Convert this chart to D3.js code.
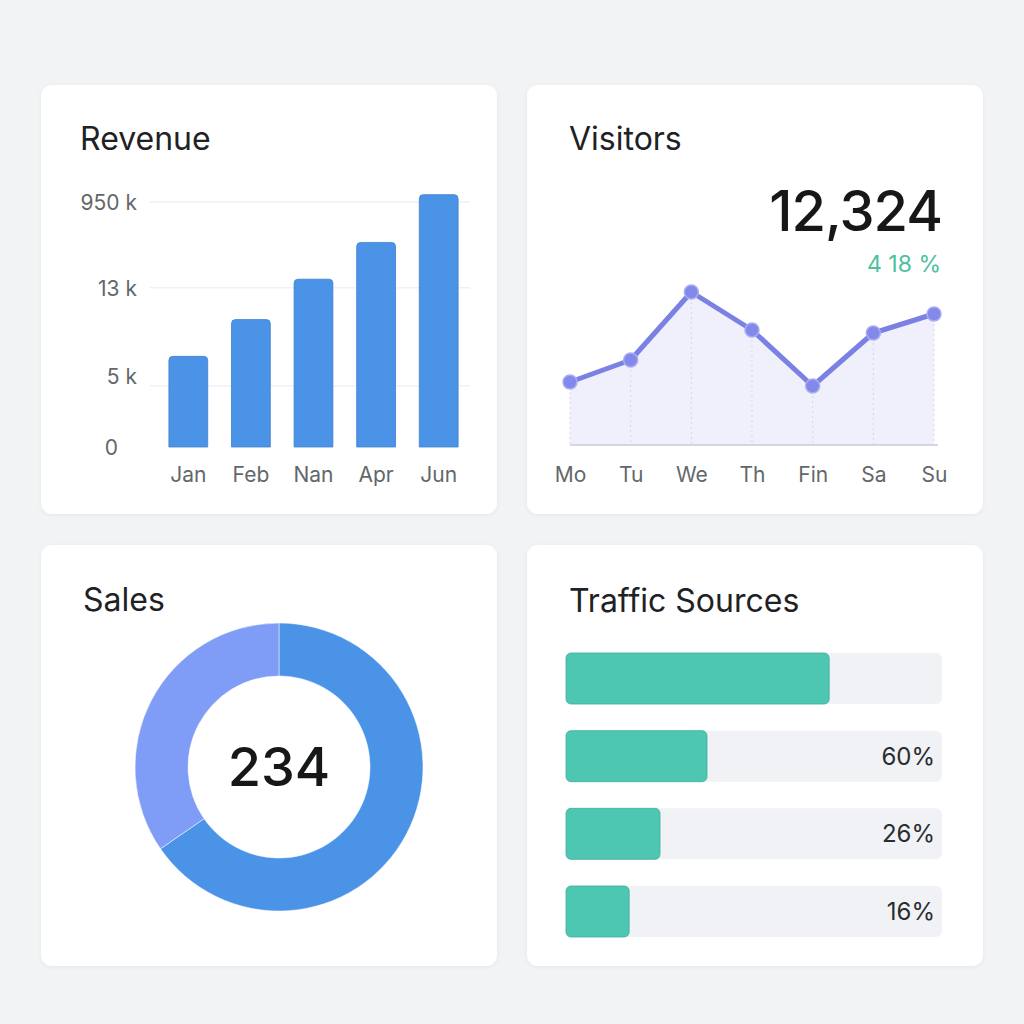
<!DOCTYPE html>
<html>
<head>
<meta charset="utf-8">
<script src="https://cdn.jsdelivr.net/npm/d3@7"></script>
<style>
  body { margin:0; background:#f1f3f4; }
  svg { display:block; font-family: Inter, "Open Sans", sans-serif; }
</style>
</head>
<body>
<svg id="dash"></svg>
<script>
var screen = {width:1024, height:1024}
var font = "Inter, 'Open Sans', sans-serif"

// revenue panel
var months = ["Jan","Feb","Nan","Apr","Jun"]
var revenue = [7.4, 10.4, 13.7, 16.7, 20.6]   // k
var revTicks = [0, 5, 13, 20]
var revTickLabels = ["0","5 k","13 k","950 k"]

// visitors panel
var days = ["Mo","Tu","We","Th","Fin","Sa","Su"]
var visitors = [63, 85, 153, 115, 59, 112, 131]
var visitorTotal = "12,324"
var visitorChange = "4 18 %"

// sales donut
var salesParts = [153, 81]
var salesColors = ["#4a93e6","#7f9cf6"]
var salesTotal = "234"

// traffic sources
var sources = ["s1","s2","s3","s4"]
var sourceValues = [70, 37.5, 25, 16.8]
var sourceLabels = ["", "60%", "26%", "16%"]

var svg = d3.select("#dash")
    .attr("width", screen.width)
    .attr("height", screen.height)

var defs = svg.append("defs")
var shadow = defs.append("filter").attr("id","shadow")
    .attr("x","-10%").attr("y","-10%").attr("width","120%").attr("height","120%")
shadow.append("feDropShadow")
    .attr("dx",0).attr("dy",1).attr("stdDeviation",2)
    .attr("flood-color","#000").attr("flood-opacity",0.05)

svg.append("rect").attr("width",screen.width).attr("height",screen.height).attr("fill","#f1f3f4")

// cards
var cards = [
    {x:41, y:85, w:456, h:429, title:"Revenue", tx:80, ty:150},
    {x:527, y:85, w:456, h:429, title:"Visitors", tx:569, ty:150},
    {x:41, y:545, w:456, h:421, title:"Sales", tx:83, ty:611},
    {x:527, y:545, w:456, h:421, title:"Traffic Sources", tx:569, ty:612}
]
svg.selectAll(".card").data(cards).enter()
    .append("rect").attr("class","card")
    .attr("x",function(d){return d.x})
    .attr("y",function(d){return d.y})
    .attr("width",function(d){return d.w})
    .attr("height",function(d){return d.h})
    .attr("rx",11)
    .attr("fill","#fff")
    .attr("filter","url(#shadow)")
svg.selectAll(".title").data(cards).enter()
    .append("text").attr("class","title")
    .attr("x",function(d){return d.tx})
    .attr("y",function(d){return d.ty})
    .attr("font-size",32)
    .attr("font-weight",400)
    .attr("fill","#1f2224")
    .text(function(d){return d.title})

// ---- revenue bars ----
var xRev = d3.scaleBand().domain(months).range([157,470]).paddingInner(0.38).paddingOuter(0.19)
var yRev = d3.scaleLinear().domain([0,20]).range([447,202])

var revGrid = svg.append("g")
revGrid.selectAll("line").data(revTicks.slice(1)).enter()
    .append("line")
    .attr("x1",150).attr("x2",470)
    .attr("y1",function(d){return yRev(d)})
    .attr("y2",function(d){return yRev(d)})
    .attr("stroke","#f0f1f3").attr("stroke-width",1.5)

var yAxisRev = svg.append("g")
    .attr("transform","translate(137,0)")
    .call(d3.axisLeft(yRev).tickValues(revTicks)
        .tickFormat(function(d,i){return revTickLabels[i]}).tickSize(0).tickPadding(0))
yAxisRev.select(".domain").remove()
yAxisRev.selectAll("text")
    .attr("font-family",font).attr("font-size",21).attr("fill","#63676a")
    .attr("dy","0.35em")
// "0" sits a little left of the other labels in the reference
yAxisRev.selectAll(".tick").filter(function(d){return d===0}).select("text").attr("x",-19)
yAxisRev.selectAll(".tick").filter(function(d){return d===5}).select("text").attr("dy","-0.1em")

svg.append("g").selectAll("path").data(revenue).enter()
    .append("path")
    .attr("d",function(d,i){
        var x = xRev(months[i]), w = xRev.bandwidth(), y = yRev(d), b = yRev(0), r = 4
        return "M"+x+","+b+"V"+(y+r)+"Q"+x+","+y+" "+(x+r)+","+y+"H"+(x+w-r)+"Q"+(x+w)+","+y+" "+(x+w)+","+(y+r)+"V"+b+"Z"
    })
    .attr("fill","#4a93e6")
    .attr("stroke","#3f80cf").attr("stroke-width",0.8)

var xAxisRev = svg.append("g")
    .attr("transform","translate(0,475)")
    .call(d3.axisBottom(xRev).tickSize(0).tickPadding(0))
xAxisRev.select(".domain").remove()
xAxisRev.selectAll("text")
    .attr("font-family",font).attr("font-size",21).attr("fill","#63676a")
    .attr("dy","0.35em")

// ---- visitors line ----
var xVis = d3.scalePoint().domain(days).range([570,934])
var yVis = d3.scaleLinear().domain([0,160]).range([445,285])

svg.append("text")
    .attr("x",942).attr("y",231).attr("text-anchor","end")
    .attr("font-size",56).attr("font-weight",500).attr("fill","#151718")
    .attr("letter-spacing",-1)
    .text(visitorTotal)
svg.append("text")
    .attr("x",941).attr("y",272).attr("text-anchor","end")
    .attr("font-size",23).attr("fill","#4dbf9d")
    .text(visitorChange)

var area = d3.area()
    .x(function(d,i){return xVis(days[i])})
    .y0(yVis(0))
    .y1(function(d){return yVis(d)})
svg.append("path").datum(visitors)
    .attr("d",area)
    .attr("fill","#eff0fb")

svg.append("g").selectAll("line").data(visitors).enter()
    .append("line")
    .attr("x1",function(d,i){return xVis(days[i])})
    .attr("x2",function(d,i){return xVis(days[i])})
    .attr("y1",function(d){return yVis(d)})
    .attr("y2",yVis(0))
    .attr("stroke","#d5d7e2").attr("stroke-width",1).attr("stroke-dasharray","2,3")

svg.append("line")
    .attr("x1",570).attr("x2",938)
    .attr("y1",yVis(0)).attr("y2",yVis(0))
    .attr("stroke","#c9cbd6").attr("stroke-width",1.5)

var line = d3.line()
    .x(function(d,i){return xVis(days[i])})
    .y(function(d){return yVis(d)})
svg.append("path").datum(visitors)
    .attr("d",line)
    .attr("fill","none")
    .attr("stroke","#7b80e3").attr("stroke-width",5).attr("stroke-linejoin","round")

svg.append("g").selectAll("circle").data(visitors).enter()
    .append("circle")
    .attr("cx",function(d,i){return xVis(days[i])})
    .attr("cy",function(d){return yVis(d)})
    .attr("r",7)
    .attr("fill","#8389ea").attr("stroke","#a9adf2").attr("stroke-width",1.5)

var xAxisVis = svg.append("g")
    .attr("transform","translate(0,475)")
    .call(d3.axisBottom(xVis).tickSize(0).tickPadding(0))
xAxisVis.select(".domain").remove()
xAxisVis.selectAll("text")
    .attr("font-family",font).attr("font-size",21).attr("fill","#63676a")
    .attr("dy","0.35em")

// ---- sales donut ----
var pie = d3.pie().sort(null)
var arc = d3.arc().innerRadius(91).outerRadius(144)
var donut = svg.append("g").attr("transform","translate(279,767)")
donut.selectAll("path").data(pie(salesParts)).enter()
    .append("path")
    .attr("d",arc)
    .attr("fill",function(d,i){return salesColors[i]})
    .attr("stroke","#fff").attr("stroke-width",0.5)
donut.append("text")
    .attr("text-anchor","middle").attr("dy","0.36em")
    .attr("font-size",54).attr("font-weight",500).attr("fill","#151718")
    .text(salesTotal)

// ---- traffic sources ----
var yTr = d3.scaleBand().domain(sources).range([653,937]).paddingInner(0.343)
var xTr = d3.scaleLinear().domain([0,100]).range([566,942])

var rows = svg.append("g").selectAll("g").data(sourceValues).enter().append("g")
rows.append("rect")
    .attr("x",xTr(0)).attr("y",function(d,i){return yTr(sources[i])})
    .attr("width",xTr(100)-xTr(0)).attr("height",yTr.bandwidth())
    .attr("rx",6).attr("fill","#f0f2f5")
rows.append("rect")
    .attr("x",xTr(0)).attr("y",function(d,i){return yTr(sources[i])})
    .attr("width",function(d){return xTr(d)-xTr(0)}).attr("height",yTr.bandwidth())
    .attr("rx",5).attr("fill","#4dc6b2").attr("stroke","#3fae9b").attr("stroke-width",0.8)
rows.append("text")
    .attr("x",935).attr("y",function(d,i){return yTr(sources[i])+yTr.bandwidth()/2})
    .attr("dy","0.36em").attr("text-anchor","end")
    .attr("font-size",24).attr("fill","#2a2c2e")
    .text(function(d,i){return sourceLabels[i]})
</script>
</body>
</html>
